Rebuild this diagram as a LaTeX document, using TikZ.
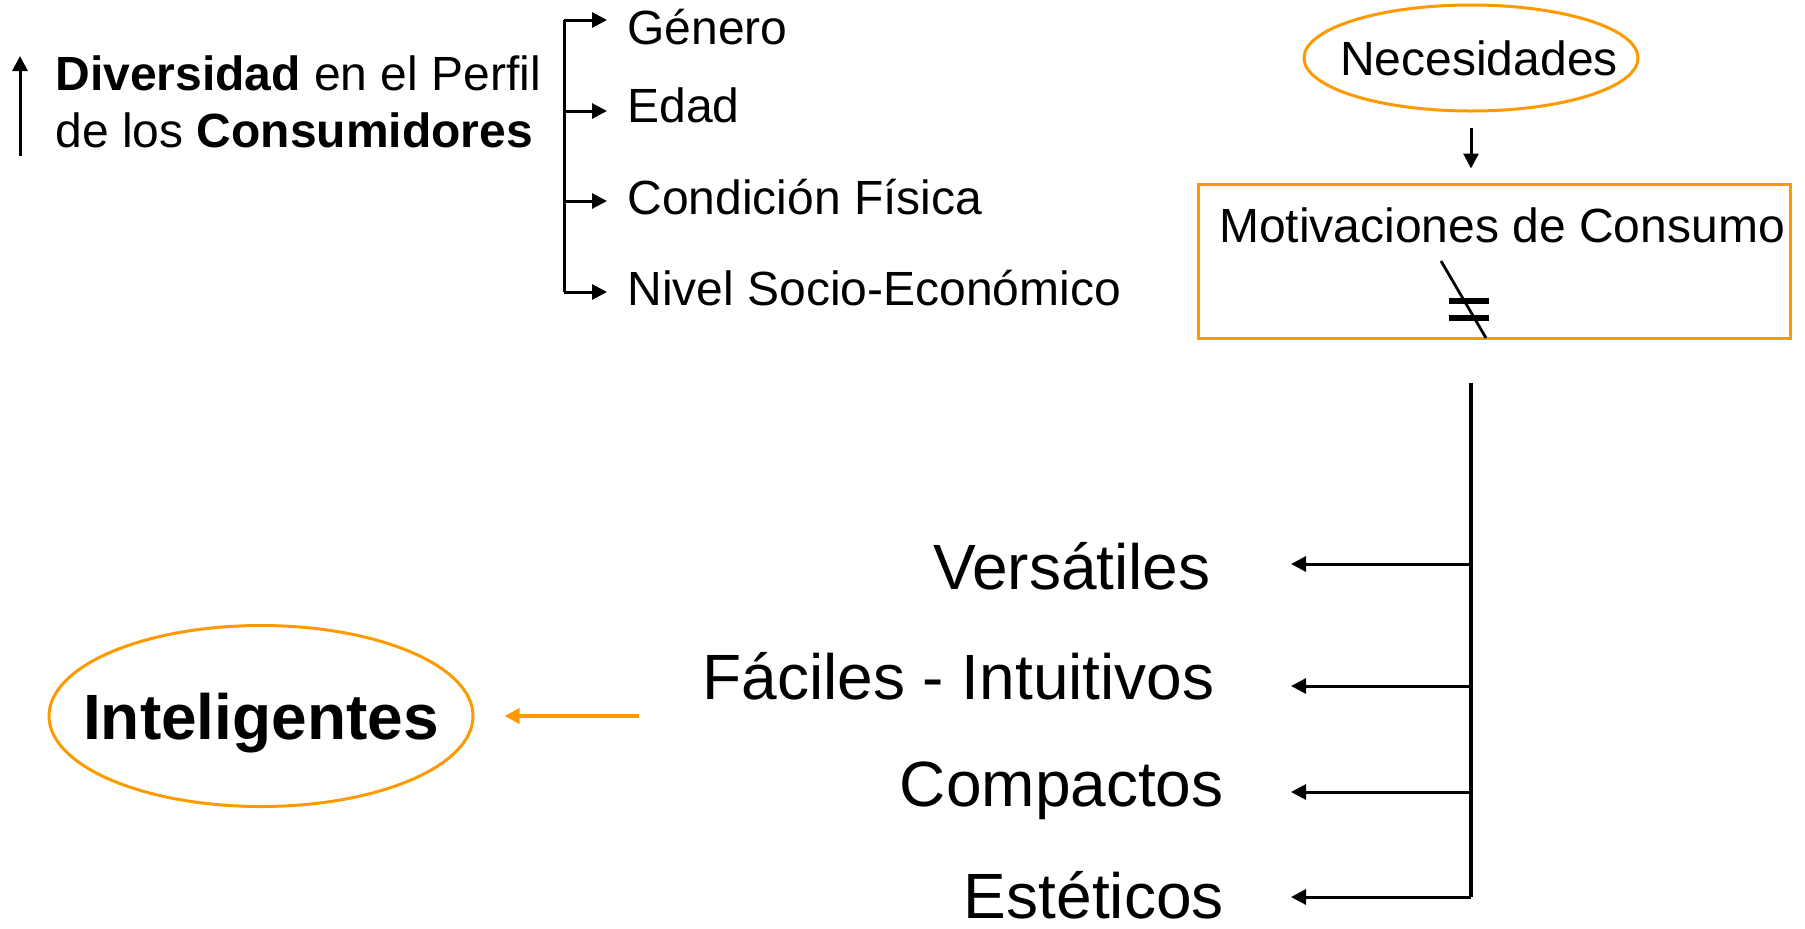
\documentclass[tikz,border=0pt]{standalone}
\usepackage{fontspec}
\setmainfont{Liberation Sans}
\usepackage{xcolor}
\usepackage{tikz}
\usetikzlibrary{arrows.meta, positioning, shapes.geometric}
\definecolor{naranja}{RGB}{255,153,0}
\tikzset{
>={Triangle[length=7.5pt,width=7.5pt]}, % filled arrow heads
flecha/.style={->, line width=1.5pt}, % black connectors
flechanar/.style={->, line width=2.4pt, draw=naranja, fill=naranja}, % orange connector
ovalo/.style={ellipse, draw=naranja, line width=1.5pt, inner sep=0pt}, % orange ellipses
caja/.style={rectangle, draw=naranja, line width=1.5pt}, % orange box
texto/.style={font=\fontsize{24}{28.5}\selectfont, inner sep=0pt}, % small text
grande/.style={font=\fontsize{32}{38}\selectfont, inner sep=0pt}, % big text
}

\begin{document}
\begin{tikzpicture}[x=0.5pt, y=0.5pt]
    \useasboundingbox (0,0) rectangle (1805,-928);

    % perfil de los consumidores
    \coordinate (sube0) at (20,-156);
    \coordinate (sube1) at (20,-56);
    \draw[flecha] (sube0) -- (sube1);
    \node[texto, anchor=west, align=left] (perfil) at (55,-101.5) {\textbf{Diversidad} en el Perfil\\de los \textbf{Consumidores}};

    \node[texto, anchor=base west] (genero) at (627,-44) {Género};
    \node[texto, anchor=base west] (edad) at (627,-122) {Edad};
    \node[texto, anchor=base west] (condicion) at (627,-214) {Condición Física};
    \node[texto, anchor=base west] (nivel) at (627,-305) {Nivel Socio-Económico};

    \coordinate (r1) at (564,-20);
    \coordinate (r2) at (564,-111);
    \coordinate (r3) at (564,-201);
    \coordinate (r4) at (564,-292);
    \draw[line width=1.5pt] (r1) -- (r4);
    \foreach \r/\n in {r1/genero, r2/edad, r3/condicion, r4/nivel}
        \draw[flecha, shorten >=10pt] (\r) -- (\r -| \n.west);

    % necesidades y motivaciones
    \node[ovalo, minimum width=167pt, minimum height=53pt, texto] (necesidades) at (1471,-58) {\makebox[0pt]{\hspace{8pt}Necesidades}};
    \node[caja, minimum width=296pt, minimum height=77pt] (motivaciones) at (1494,-261) {};
    \node[texto, anchor=base] (motivtxt) at (1502,-242) {Motivaciones de Consumo};
    \draw[flecha, shorten <=7.5pt, shorten >=7pt] (necesidades.south) -- (necesidades.south |- motivaciones.north);

    % distinto
    \draw[line width=3pt] (1449,-301) -- (1489,-301);
    \draw[line width=3pt] (1449,-318) -- (1489,-318);
    \draw[line width=1.4pt] (1441,-261) -- (1486,-338);

    % atributos
    \node[grande, anchor=base east] (versatiles) at (1211,-589) {Versátiles};
    \node[grande, anchor=base east] (faciles) at (1215,-699) {Fáciles - Intuitivos};
    \node[grande, anchor=base east] (compactos) at (1224,-806) {Compactos};
    \node[grande, anchor=base east] (esteticos) at (1224,-918) {Estéticos};

    \coordinate (tronco) at (1471,-383);
    \foreach \y [count=\i] in {564,686,792,897} {
        \coordinate (b\i) at (1471,-\y);
        \coordinate (p\i) at (1291,-\y);
        \draw[flecha] (b\i) -- (p\i);
    }
    \draw[line width=2pt] (tronco) -- (b4);

    % inteligentes
    \node[ovalo, minimum width=212pt, minimum height=90.5pt, font=\fontsize{32}{38}\selectfont\bfseries, text depth=0pt] (inteligentes) at (261,-716) {\makebox[0pt]{Inteligentes}};
    \coordinate (origen) at (639,-716);
    \draw[flechanar, shorten >=15pt] (origen) -- (inteligentes.east);
\end{tikzpicture}
\end{document}
